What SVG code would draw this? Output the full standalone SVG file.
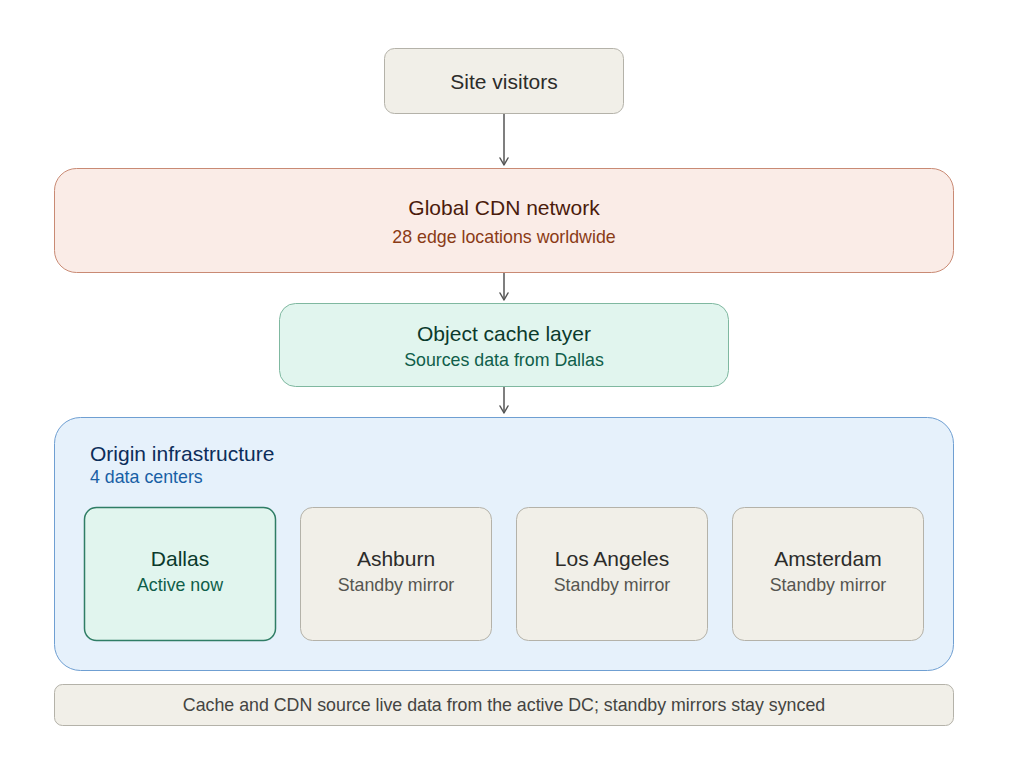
<svg xmlns="http://www.w3.org/2000/svg" width="1009" height="780" viewBox="0 0 1009 780">
<defs>
<marker id="arr" viewBox="0 0 10 10" refX="8" refY="5" markerWidth="10" markerHeight="10" markerUnits="userSpaceOnUse" orient="auto">
<path d="M1,1 L8,5 L1,9" fill="none" stroke="#555" stroke-width="1.5" stroke-linecap="round" stroke-linejoin="round"/>
</marker>
<style>
text{font-family:"Liberation Sans",Arial,sans-serif;text-anchor:middle}
.t{font-size:21px}
.s{font-size:17.8px}
.gray{fill:#f1efe8;stroke:#b4b2a9;stroke-width:1}
.gt{fill:#2c2c2a}
.gs{fill:#555550}
.edge{stroke:#555;stroke-width:1.5;fill:none}
</style>
</defs>
<rect width="1009" height="780" fill="#ffffff"/>
<g id="connectors">
<line class="edge" x1="504" y1="114" x2="504" y2="165" marker-end="url(#arr)"/>
<line class="edge" x1="504" y1="273" x2="504" y2="300" marker-end="url(#arr)"/>
<line class="edge" x1="504" y1="387" x2="504" y2="413" marker-end="url(#arr)"/>
</g>
<g id="visitors">
<rect class="gray" x="384.5" y="48.5" width="239" height="65" rx="10"/>
<text class="t gt" x="504" y="89">Site visitors</text>
</g>
<g id="cdn">
<rect x="54.5" y="168.5" width="899" height="104" rx="22" fill="#faece7" stroke="#c98a74" stroke-width="1"/>
<text class="t" x="504" y="215" fill="#4a1b0c">Global CDN network</text>
<text class="s" x="504" y="243" fill="#8a3b16">28 edge locations worldwide</text>
</g>
<g id="cache">
<rect x="279.5" y="303.5" width="449" height="83" rx="16" fill="#e1f5ee" stroke="#7fb8a0" stroke-width="1"/>
<text class="t" x="504" y="341" fill="#0b3a2c">Object cache layer</text>
<text class="s" x="504" y="366" fill="#0f5e4a">Sources data from Dallas</text>
</g>
<g id="origin">
<rect x="54.5" y="417.5" width="899" height="253" rx="26" fill="#e6f1fb" stroke="#6f9fd2" stroke-width="1"/>
<text class="t" x="90" y="461" fill="#0c2d5a" style="text-anchor:start">Origin infrastructure</text>
<text class="s" x="90" y="483" fill="#185fa5" style="text-anchor:start">4 data centers</text>
</g>
<g id="dallas">
<rect x="84.5" y="507.5" width="191" height="133" rx="12" fill="#e1f5ee" stroke="#2f7d65" stroke-width="1.5"/>
<text class="t" x="180" y="566" fill="#0b3a2c">Dallas</text>
<text class="s" x="180" y="591" fill="#0f5e4a">Active now</text>
</g>
<g id="ashburn">
<rect class="gray" x="300.5" y="507.5" width="191" height="133" rx="12"/>
<text class="t gt" x="396" y="566">Ashburn</text>
<text class="s gs" x="396" y="591">Standby mirror</text>
</g>
<g id="losangeles">
<rect class="gray" x="516.5" y="507.5" width="191" height="133" rx="12"/>
<text class="t gt" x="612" y="566">Los Angeles</text>
<text class="s gs" x="612" y="591">Standby mirror</text>
</g>
<g id="amsterdam">
<rect class="gray" x="732.5" y="507.5" width="191" height="133" rx="12"/>
<text class="t gt" x="828" y="566">Amsterdam</text>
<text class="s gs" x="828" y="591">Standby mirror</text>
</g>
<g id="note">
<rect class="gray" x="54.5" y="684.5" width="899" height="41" rx="8"/>
<text class="s" x="504" y="711" fill="#444441">Cache and CDN source live data from the active DC; standby mirrors stay synced</text>
</g>
</svg>
